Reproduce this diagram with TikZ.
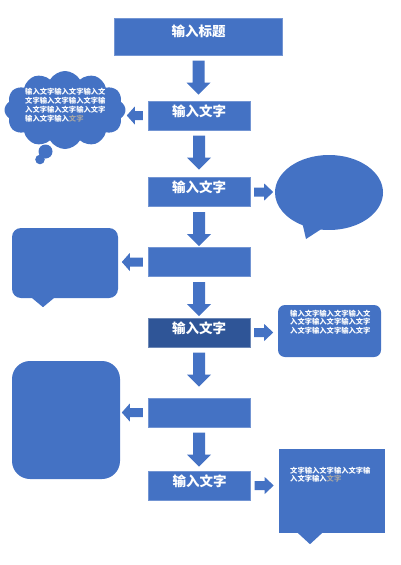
\documentclass[tikz,border=0pt]{standalone}
\usepackage{fontspec}
\newfontfamily\cjk{Noto Sans CJK SC}
\usetikzlibrary{shapes.callouts,shapes.symbols,calc}
\definecolor{cblue}{HTML}{4472C4}
\definecolor{cdark}{HTML}{2F5597}
\definecolor{cgray}{HTML}{A5A5A5}
\tikzset{
  stepbox/.style={fill=cblue, draw=cblue!75!white, line width=0.4pt, minimum width=102pt, minimum height=29pt, inner sep=0pt, text=white, font=\cjk\bfseries\fontsize{13.5}{15}\selectfont},
  arr/.style={fill=cblue},
  bubble/.style={fill=cblue, inner sep=0pt},
  smalltxt/.style={text=white, font=\cjk\bfseries\fontsize{7.3}{8.7}\selectfont, align=left, inner sep=0pt, anchor=north west},
}
\newcommand\bx[2][-0.6pt]{\raisebox{#1}[0pt][0pt]{#2}}
\newcommand\arrdown[1]{\fill[arr] ($(#1.south)+(-6,5.5)$) -- ++(12,0) -- ++(0,22) -- ++(6,0) -- ++(-12,12) -- ++(-12,-12) -- ++(6,0) -- cycle;}
\newcommand\arrleft[2]{\fill[arr] ($(#1.west)+(-5,-4.5)$) -- ++({8-#2},0) -- ++(0,-4.5) -- ++(-8,9) -- ++(8,9) -- ++(0,-4.5) -- ++({#2-8},0) -- cycle;}
\newcommand\arrright[2]{\fill[arr] ($(#1.east)+(4,-4.5)$) -- ++({#2-9},0) -- ++(0,-4) -- ++(9,8.5) -- ++(-9,8.5) -- ++(0,-4) -- ++({9-#2},0) -- cycle;}
\begin{document}
\begin{tikzpicture}[x=1pt,y=-1pt]
\useasboundingbox (0,0) rectangle (400,565);
% main column
\node[stepbox, minimum width=168pt, minimum height=37pt] (title) at (198.5,36.5) {\bx[-0.4pt]{输入标题}};
\node[stepbox] (b2) at (199,115.5) {\bx{输入文字}};
\node[stepbox] (b3) at (199,192) {\bx{输入文字}};
\node[stepbox] (b4) at (199,262) {};
\node[stepbox, fill=cdark, draw=cdark!70!white] (b5) at (199,332.5) {\bx{输入文字}};
\node[stepbox] (b6) at (199,412.5) {};
\node[stepbox] (b7) at (199.5,485.5) {\bx{输入文字}};
% side shapes
\node[cloud, cloud puffs=12, cloud puff arc=120, cloud ignores aspect, minimum width=121pt, minimum height=78pt, fill=cblue, inner sep=0pt] (cloud) at (65,110) {};
\fill[cblue] (45.5,151.5) circle[radius=7];
\fill[cblue] (40,159.5) circle[radius=4.8];
\node[ellipse callout, minimum width=108pt, minimum height=75pt, callout absolute pointer={(306,239)}, callout pointer arc=20, fill=cblue, inner sep=0pt] (oval) at (329,192.5) {};
\node[bubble, rounded corners=9pt, minimum width=106pt, minimum height=70pt] (sq1) at (65,263) {};
\fill[cblue] ($(sq1.south)+(-34,-1)$) -- ($(sq1.south)+(-22,9)$) -- ($(sq1.south)+(-10,-1)$) -- cycle;
\node[bubble, rounded corners=7pt, minimum width=103pt, minimum height=52pt] (sq2) at (329.5,331) {};
\node[bubble, rounded corners=18pt, minimum width=108pt, minimum height=118pt] (sq3) at (66,420) {};
\node[bubble, minimum width=106pt, minimum height=84pt] (sq4) at (332,491) {};
\fill[cblue] ($(sq4.south)+(-35,-1)$) -- ($(sq4.south)+(-22,11)$) -- ($(sq4.south)+(-9,-1)$) -- cycle;
% texts
\node[smalltxt, font=\cjk\bfseries\fontsize{7.3}{9.2}\selectfont] (t1) at (25,87.5) {输入文字输入文字输入文\\文字输入文字输入文字输\\入文字输入文字输入文字\\输入文字输入{\color{cgray}文字}};
\node[smalltxt] (t2) at (290,309.5) {输入文字输入文字输入文\\入文字输入文字输入文字\\入文字输入文字输入文字};
\node[smalltxt] (t3) at (290,466.5) {文字输入文字输入文字输\\入文字输入{\color{cgray}文字}};
% arrows
\arrdown{title}
\arrdown{b2}
\arrdown{b3}
\arrdown{b4}
\arrdown{b5}
\arrdown{b6}
\arrleft{b2}{16}
\arrleft{b4}{21}
\arrleft{b6}{21}
\arrright{b3}{19}
\arrright{b5}{19}
\arrright{b7}{19}
\end{tikzpicture}
\end{document}
